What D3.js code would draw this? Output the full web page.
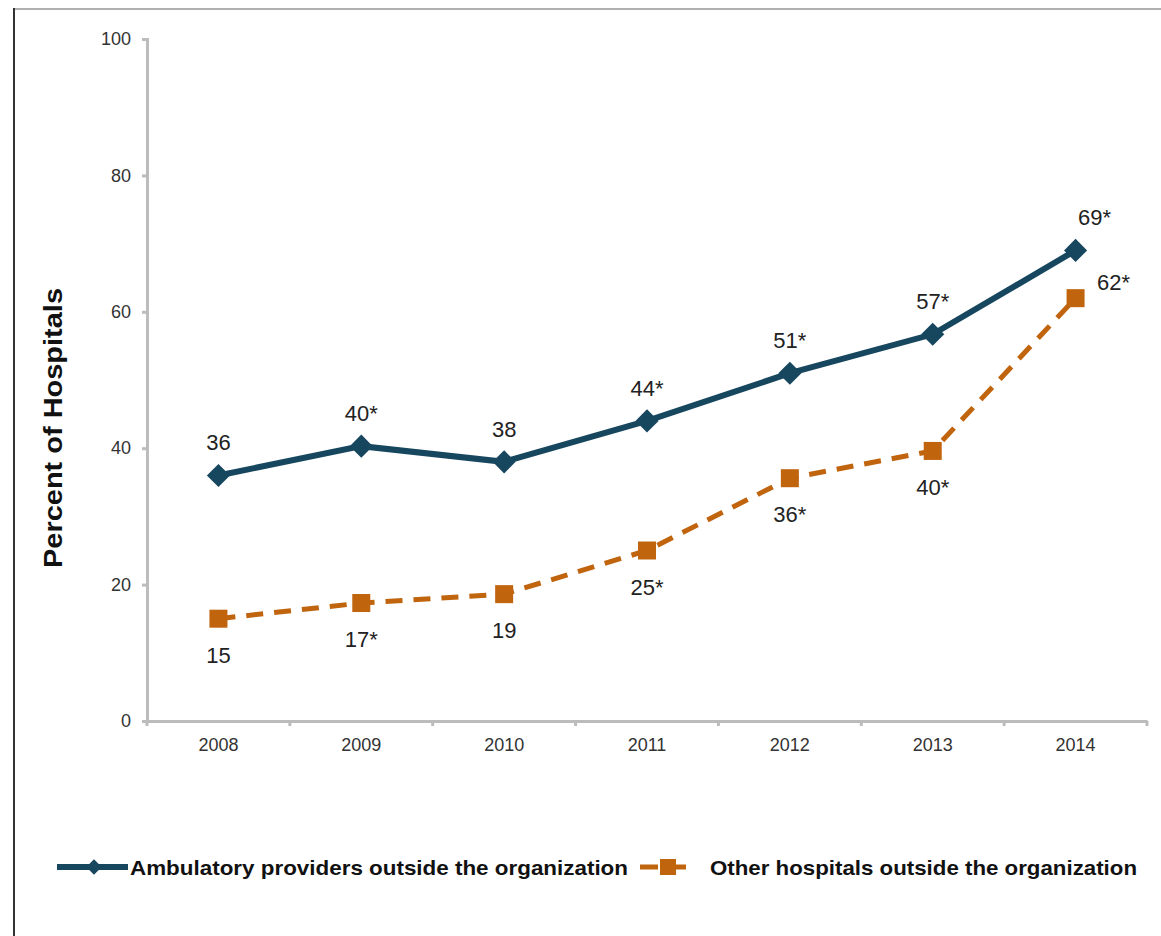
<!DOCTYPE html>
<html>
<head>
<meta charset="utf-8">
<script src="https://cdn.jsdelivr.net/npm/d3@7/dist/d3.min.js"></script>
<style>
body { margin: 0; background: #fff; }
text { font-family: "Liberation Sans", Arial, sans-serif; }
</style>
</head>
<body>
<div id="chart"></div>
<script>
// data
var years = ['2008', '2009', '2010', '2011', '2012', '2013', '2014'];
var ambulatory = [36, 40.3, 38, 44, 51, 56.7, 69];
var ambulatoryLabels = ['36', '40*', '38', '44*', '51*', '57*', '69*'];
var otherHosp = [15, 17.3, 18.6, 25, 35.6, 39.6, 62];
var otherHospLabels = ['15', '17*', '19', '25*', '36*', '40*', '62*'];
var yTicks = [0, 20, 40, 60, 80, 100];
var seriesNames = ['Ambulatory providers outside the organization', 'Other hospitals outside the organization'];

var W = 1161, H = 936;
var blue = '#17465f', orange = '#c0640e';

var svg = d3.select('#chart').append('svg')
    .attr('width', W).attr('height', H);

// frame
svg.append('line').attr('x1', 13).attr('x2', W).attr('y1', 9).attr('y2', 9)
    .attr('stroke', '#b0b0b0').attr('stroke-width', 2);
svg.append('line').attr('x1', 14).attr('x2', 14).attr('y1', 8).attr('y2', H)
    .attr('stroke', '#333').attr('stroke-width', 2);

var x = d3.scaleBand().domain(years).range([147, 1147]);
var y = d3.scaleLinear().domain([0, 100]).range([721, 39]);
var cx = function (d, i) { return x(years[i]) + x.bandwidth() / 2; };

// y axis
var yAxis = svg.append('g').attr('transform', 'translate(147,0)')
    .call(d3.axisLeft(y).tickValues(yTicks).tickSize(5).tickPadding(11));
// x axis
var xAxis = svg.append('g').attr('transform', 'translate(0,721)')
    .call(d3.axisBottom(x).tickSize(0).tickPadding(17));
xAxis.selectAll('.xtick').data(d3.range(years.length + 1)).enter().append('line')
    .attr('x1', function (d) { return 147 + d * x.step(); })
    .attr('x2', function (d) { return 147 + d * x.step(); })
    .attr('y1', 0).attr('y2', 5);
[yAxis, xAxis].forEach(function (a) {
    a.select('.domain').attr('stroke', '#bcbcbc').attr('stroke-width', 3);
    a.selectAll('line').attr('stroke', '#bcbcbc').attr('stroke-width', 3);
    a.selectAll('text').attr('fill', '#333').style('font-size', '18px')
        .style('font-family', '"Liberation Sans", Arial, sans-serif');
});

svg.append('text')
    .attr('transform', 'translate(62,428) rotate(-90)')
    .attr('text-anchor', 'middle')
    .attr('textLength', 280).attr('lengthAdjust', 'spacingAndGlyphs')
    .style('font-size', '25px').style('font-weight', 'bold').attr('fill', '#111')
    .text('Percent of Hospitals');

var line = d3.line().x(cx).y(function (d) { return y(d); });

// orange dashed series
svg.append('path').datum(otherHosp).attr('d', line)
    .attr('fill', 'none').attr('stroke', orange).attr('stroke-width', 5)
    .attr('stroke-dasharray', '17,11');
svg.selectAll('.sq').data(otherHosp).enter().append('rect')
    .attr('x', function (d, i) { return cx(d, i) - 9; })
    .attr('y', function (d) { return y(d) - 9; })
    .attr('width', 18).attr('height', 18).attr('fill', orange);

// blue series
svg.append('path').datum(ambulatory).attr('d', line)
    .attr('fill', 'none').attr('stroke', blue).attr('stroke-width', 6);
var diamond = d3.symbol().type(d3.symbolDiamond2).size(340);
svg.selectAll('.dm').data(ambulatory).enter().append('path')
    .attr('d', diamond)
    .attr('transform', function (d, i) { return 'translate(' + cx(d, i) + ',' + y(d) + ')'; })
    .attr('fill', blue);

// value labels
var last = years.length - 1;
svg.selectAll('.lb1').data(ambulatory).enter().append('text')
    .attr('x', function (d, i) { return cx(d, i) + (i === last ? 19 : 0); })
    .attr('y', function (d) { return y(d) - 25; })
    .attr('text-anchor', 'middle').style('font-size', '22px').attr('fill', '#222')
    .text(function (d, i) { return ambulatoryLabels[i]; });
svg.selectAll('.lb2').data(otherHosp).enter().append('text')
    .attr('x', function (d, i) { return cx(d, i) + (i === last ? 38 : 0); })
    .attr('y', function (d, i) { return i === last ? y(d) - 8 : y(d) + 44; })
    .attr('text-anchor', 'middle').style('font-size', '22px').attr('fill', '#222')
    .text(function (d, i) { return otherHospLabels[i]; });

// legend
var lg = svg.append('g').attr('transform', 'translate(0,867)');
lg.append('line').attr('x1', 57).attr('x2', 128).attr('y1', 0).attr('y2', 0)
    .attr('stroke', blue).attr('stroke-width', 6);
lg.append('path').attr('d', d3.symbol().type(d3.symbolDiamond2).size(150))
    .attr('transform', 'translate(94,0)').attr('fill', blue);
lg.append('text').attr('x', 130).attr('y', 8).style('font-size', '21px')
    .attr('textLength', 498).attr('lengthAdjust', 'spacingAndGlyphs')
    .style('font-weight', 'bold').attr('fill', '#111').text(seriesNames[0]);
lg.append('line').attr('x1', 640).attr('x2', 691).attr('y1', 0).attr('y2', 0)
    .attr('stroke', orange).attr('stroke-width', 5).attr('stroke-dasharray', '18,10');
lg.append('rect').attr('x', 660).attr('y', -8).attr('width', 16).attr('height', 16).attr('fill', orange);
lg.append('text').attr('x', 710).attr('y', 8).style('font-size', '21px')
    .attr('textLength', 427).attr('lengthAdjust', 'spacingAndGlyphs')
    .style('font-weight', 'bold').attr('fill', '#111').text(seriesNames[1]);
</script>
</body>
</html>
